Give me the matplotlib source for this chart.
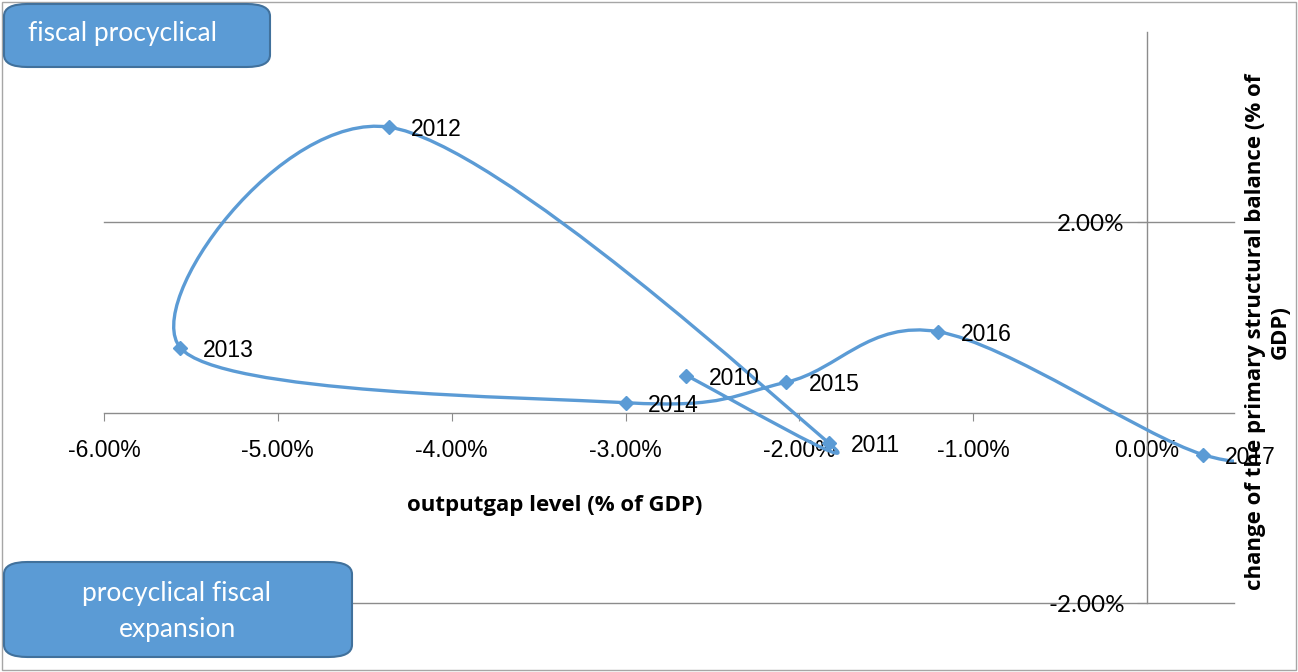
import numpy as np
import matplotlib.pyplot as plt
from matplotlib.path import Path
from matplotlib.patches import PathPatch, FancyBboxPatch, Rectangle

# output gap (x) and change of primary structural balance (y), in % of GDP
years = ['2010', '2011', '2012', '2013', '2014', '2015', '2016', '2017', '2018']
outputgap = [-2.65, -1.83, -4.36, -5.56, -3.00, -2.075, -1.20, 0.32, 0.95]
balance_change = [0.39, -0.32, 3.00, 0.68, 0.105, 0.32, 0.85, -0.44, -0.38]

x_ticks = [-6, -5, -4, -3, -2, -1, 0]
y_ticks = [-2, 2]

blue = '#5B9BD5'
grid_grey = '#8C8C8C'


def smooth_path(xs, ys, tension=1/6):
    # cubic bezier through the points, tangents from neighbouring points
    pts = np.column_stack([xs, ys])
    n = len(pts)
    verts = [pts[0]]
    codes = [Path.MOVETO]
    for i in range(n - 1):
        p_prev = pts[i - 1] if i > 0 else pts[i]
        p_next2 = pts[i + 2] if i + 2 < n else pts[i + 1]
        c1 = pts[i] + (pts[i + 1] - p_prev) * tension
        c2 = pts[i + 1] - (p_next2 - pts[i]) * tension
        verts += [c1, c2, pts[i + 1]]
        codes += [Path.CURVE4] * 3
    return Path(verts, codes)


fig = plt.figure(figsize=(12.98, 6.72), dpi=100)
ax = fig.add_axes([104 / 1298, 69 / 672, 1130 / 1298, 571 / 672])

ax.set_xlim(-6, 0.5)
ax.set_ylim(-2, 4)

for y in y_ticks:
    ax.axhline(y, color=grid_grey, lw=1, zorder=1, clip_on=False)

for side in ['top', 'right']:
    ax.spines[side].set_visible(False)
ax.spines['bottom'].set_position(('data', 0))
ax.spines['left'].set_position(('data', 0))
for side in ['bottom', 'left']:
    ax.spines[side].set_color(grid_grey)
    ax.spines[side].set_linewidth(1)

ax.set_xticks(x_ticks)
ax.set_xticklabels(['%.2f%%' % v for v in x_ticks], family='Liberation Sans', fontsize=16.5)
ax.set_yticks(y_ticks)
ax.set_yticklabels(['%.2f%%' % v for v in y_ticks], family='Lato', fontsize=17.5)
ax.tick_params(axis='x', direction='out', length=6, color=grid_grey, pad=13)
ax.tick_params(axis='y', direction='out', length=7, color=grid_grey, pad=9)

# smoothed line plus diamond markers
path = smooth_path(outputgap, balance_change)
ax.add_patch(PathPatch(path, facecolor='none', edgecolor=blue, lw=2.4, zorder=3,
                       capstyle='round', joinstyle='round'))
ax.plot(outputgap, balance_change, linestyle='none', marker='D', markersize=7,
        color=blue, zorder=4)

xmin, xmax = ax.get_xlim()
for yr, xv, yv in zip(years, outputgap, balance_change):
    if xmin <= xv <= xmax:
        ax.annotate(yr, (xv, yv), xytext=(16, -2), textcoords='offset points',
                    va='center', ha='left', family='Liberation Sans', fontsize=16.5,
                    zorder=5)

fig.text(555 / 1298, 1 - 506 / 672, 'outputgap level (% of GDP)', ha='center', va='center',
         family='Open Sans', fontweight='bold', fontsize=16)
fig.text(1268 / 1298, 1 - 332 / 672,
         'change of the primary structural balance (% of\nGDP)',
         rotation=90, ha='center', va='center', multialignment='center',
         family='Open Sans', fontweight='bold', fontsize=16, linespacing=1.25)

# chart border
fig.patches.append(Rectangle((2 / 1298, 2 / 672), 1294 / 1298, 668 / 672,
                             transform=fig.transFigure, fill=False,
                             edgecolor='#A6A6A6', lw=1))

# annotation boxes
box_style = dict(boxstyle='round,pad=0,rounding_size=0.018', facecolor=blue,
                 edgecolor='#41719C', lw=1.5, transform=fig.transFigure)
fig.patches.append(FancyBboxPatch((4 / 1298, 1 - 67 / 672), 266 / 1298, 63 / 672, **box_style))
fig.patches.append(FancyBboxPatch((4 / 1298, 1 - 657 / 672), 348 / 1298, 95 / 672, **box_style))
fig.text(122 / 1298, 1 - 34 / 672, 'fiscal procyclical', ha='center', va='center',
         color='white', family='Lato', fontsize=19)
fig.text(177 / 1298, 1 - 612 / 672, 'procyclical fiscal\nexpansion', ha='center',
         va='center', color='white', family='Lato', fontsize=19, linespacing=1.55)

fig.savefig('out.png', dpi=100)
